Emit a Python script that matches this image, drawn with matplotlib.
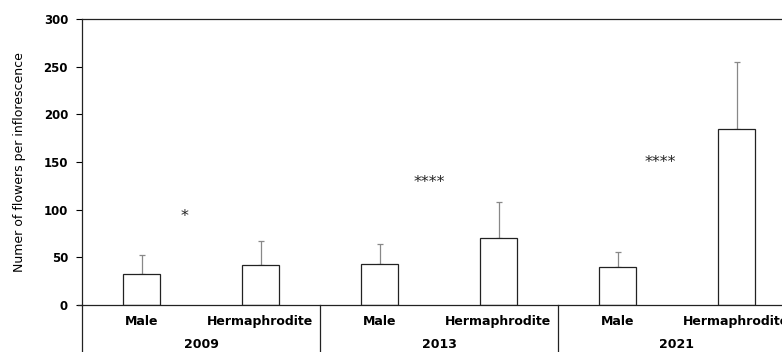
import matplotlib
matplotlib.use("Agg")
import matplotlib.pyplot as plt
import numpy as np

years = ["2009", "2013", "2021"]
sexes = ["Male", "Hermaphrodite"]
means = [32, 42, 43, 70, 40, 185]
upper_err = [20, 25, 21, 38, 16, 70]
stars = ["*", "****", "****"]
star_x = [0.86, 2.92, 4.86]
star_y = [93, 129, 149]

plt.rcParams['font.family'] = ['DejaVu Sans']

fig = plt.figure(figsize=(7.82, 3.52), dpi=100)
ax = fig.add_axes([82 / 782, 47 / 352, 714 / 782, 286 / 352])

x = np.arange(len(means)) + 0.5
ax.bar(x, means, width=0.31, color='white', edgecolor='#222222', linewidth=0.9, zorder=2)
ax.errorbar(x, means, yerr=[np.zeros(len(means)), upper_err], fmt='none',
            ecolor='#888888', elinewidth=0.9, capsize=2.5, capthick=0.9, zorder=1)

for sx, sy, s in zip(star_x, star_y, stars):
    ax.text(sx, sy, s, ha='center', va='center', fontsize=11.5, color='#222222')

ax.set_xlim(0, 6)
ax.set_ylim(0, 300)
ax.set_yticks(range(0, 301, 50))
ax.tick_params(axis='y', direction='out', length=4, width=0.8, labelsize=8.5, pad=6)
for lab in ax.get_yticklabels():
    lab.set_fontweight('bold')
ax.set_xticks([])
ax.spines['right'].set_visible(False)
for sp in ['left', 'top', 'bottom']:
    ax.spines[sp].set_linewidth(0.9)
    ax.spines[sp].set_color('#222222')
ax.set_ylabel("Numer of flowers per inflorescence", fontsize=9)
ax.yaxis.set_label_coords(-0.078, 0.5)

# category labels and group labels below the axis
for i, xi in enumerate(x):
    ax.text(xi, -17, sexes[i % 2], ha='center', va='center', fontsize=9,
            fontweight='bold', clip_on=False)
for g, yr in enumerate(years):
    ax.text(2 * g + 1, -41, yr, ha='center', va='center', fontsize=9,
            fontweight='bold', clip_on=False)
for b in [0, 2, 4]:
    ax.plot([b, b], [0, -52], color='#222222', linewidth=0.9, clip_on=False)
ax.plot([-0.035, 0], [0, 0], color='#222222', linewidth=0.9, clip_on=False)

fig.savefig("out.png", dpi=100)
